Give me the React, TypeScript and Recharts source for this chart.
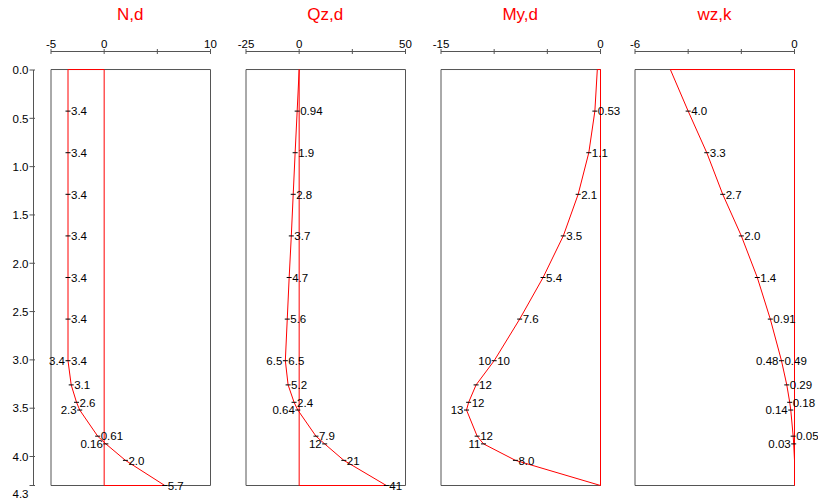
import React from 'react';
import {
  ScatterChart,
  Scatter,
  XAxis,
  YAxis,
  ReferenceArea,
} from 'recharts';

// depth of every result node (m)
const depths = [0, 0.43, 0.86, 1.29, 1.72, 2.15, 2.58, 3.01, 3.26, 3.44, 3.52, 3.79, 3.87, 4.04, 4.3];
const depthTicks = [0, 0.5, 1, 1.5, 2, 2.5, 3, 3.5, 4, 4.3];

// N,d
const nValues = [-3.4, -3.4, -3.4, -3.4, -3.4, -3.4, -3.4, -3.4, -3.1, -2.6, -2.3, -0.61, 0.16, 2.0, 5.7];
const nRight = ['', '3.4', '3.4', '3.4', '3.4', '3.4', '3.4', '3.4', '3.1', '2.6', '', '0.61', '', '2.0', '5.7'];
const nLeft = ['', '', '', '', '', '', '', '3.4', '', '', '2.3', '', '0.16', '', ''];

// Qz,d
const qValues = [0, -0.94, -1.9, -2.8, -3.7, -4.7, -5.6, -6.5, -5.2, -2.4, -0.64, 7.9, 12, 21, 41];
const qRight = ['', '0.94', '1.9', '2.8', '3.7', '4.7', '5.6', '6.5', '5.2', '2.4', '', '7.9', '', '21', '41'];
const qLeft = ['', '', '', '', '', '', '', '6.5', '', '', '0.64', '', '12', '', ''];

// My,d
const mValues = [-0.3, -0.53, -1.1, -2.1, -3.5, -5.4, -7.6, -10, -11.7, -12.4, -12.6, -11.6, -11, -8.0, 0];
const mRight = ['', '0.53', '1.1', '2.1', '3.5', '5.4', '7.6', '10', '12', '12', '', '12', '', '8.0', ''];
const mLeft = ['', '', '', '', '', '', '', '10', '', '', '13', '', '11', '', ''];

// wz,k
const wValues = [-4.67, -4.0, -3.3, -2.7, -2.0, -1.4, -0.91, -0.49, -0.29, -0.18, -0.14, -0.05, -0.03, 0, 0];
const wRight = ['', '4.0', '3.3', '2.7', '2.0', '1.4', '0.91', '0.49', '0.29', '0.18', '', '0.05', '', '', ''];
const wLeft = ['', '', '', '', '', '', '', '0.48', '', '', '0.14', '', '0.03', '', ''];

const FONT = '"Liberation Sans", Arial, sans-serif';
const RED = '#ff0000';
const GREY = '#555';
const H = 499;
const AXIS_Y = 51.5;
const BOX_W = 159.5;
const ML = 22;
const MR = 26;
const Y_DOMAIN: [number, number] = [-0.1863, 4.3];

const panels = [
  { title: 'N,d', x0: 50.5, domain: [-5, 10], ticks: [-5, 0, 5, 10], shown: [-5, 0, 10], values: nValues, right: nRight, left: nLeft },
  { title: 'Qz,d', x0: 245.5, domain: [-25, 50], ticks: [-25, 0, 25, 50], shown: [-25, 0, 50], values: qValues, right: qRight, left: qLeft },
  { title: 'My,d', x0: 440.5, domain: [-15, 0], ticks: [-15, -10, -5, 0], shown: [-15, 0], values: mValues, right: mRight, left: mLeft },
  { title: 'wz,k', x0: 634.75, domain: [-6, 0], ticks: [-6, -4, -2, 0], shown: [-6, 0], values: wValues, right: wRight, left: wLeft },
];

const buildRows = (values: number[], right: string[], left: string[]) => {
  const rows = depths.map((d, i) => ({ d, v: values[i], r: right[i], l: left[i] }));
  // close the diagram back along the member axis
  rows.push({ d: 4.3, v: 0, r: '', l: '' });
  rows.push({ d: 0, v: 0, r: '', l: '' });
  rows.push({ d: 0, v: values[0], r: '', l: '' });
  return rows;
};

const PointLabel = (props: any) => {
  const { cx, cy, payload } = props;
  if (!payload || (!payload.r && !payload.l)) return <g />;
  return (
    <g>
      <line x1={cx - 2.5} x2={cx + 2.5} y1={cy} y2={cy} stroke="#000" strokeWidth={1} />
      {payload.r && (
        <text x={cx + 3} y={cy + 4.3} fontSize={11.5} fontFamily={FONT} fill="#000" textAnchor="start">
          {payload.r}
        </text>
      )}
      {payload.l && (
        <text x={cx - 3} y={cy + 4.3} fontSize={11.5} fontFamily={FONT} fill="#000" textAnchor="end">
          {payload.l}
        </text>
      )}
    </g>
  );
};

const makeTopTick = (shown: number[]) => (props: any) => {
  const { x, payload } = props;
  return (
    <g>
      <line x1={x} x2={x} y1={AXIS_Y - 2.5} y2={AXIS_Y + 2.5} stroke={GREY} strokeWidth={1} />
      {shown.includes(payload.value) && (
        <text x={x} y={AXIS_Y - 4} fontSize={11.5} fontFamily={FONT} fill="#000" textAnchor="middle">
          {payload.value}
        </text>
      )}
    </g>
  );
};

const DepthTick = (props: any) => {
  const { y, payload } = props;
  const v = payload.value as number;
  return (
    <g>
      <line x1={29.5} x2={35} y1={y} y2={y} stroke={GREY} strokeWidth={1} />
      <text x={28.5} y={y + 4.3 + (v === 4.3 ? 8 : 0)} fontSize={11.5} fontFamily={FONT} fill="#000" textAnchor="end">
        {v.toFixed(1)}
      </text>
    </g>
  );
};

const Panel = ({ p }: { p: typeof panels[number] }) => {
  const rows = buildRows(p.values, p.right, p.left);
  return (
    <div style={{ position: 'absolute', left: p.x0 - ML, top: 0 }}>
      <div
        style={{
          position: 'absolute',
          left: ML,
          top: 5,
          width: BOX_W,
          textAlign: 'center',
          color: RED,
          fontFamily: FONT,
          fontSize: 17,
          lineHeight: '20px',
        }}
      >
        {p.title}
      </div>
      <ScatterChart
        width={BOX_W + ML + MR}
        height={H}
        margin={{ top: AXIS_Y - 20, right: MR, bottom: 13.5, left: ML }}
      >
        <XAxis
          dataKey="v"
          type="number"
          orientation="top"
          height={20}
          domain={p.domain}
          ticks={p.ticks}
          tick={makeTopTick(p.shown)}
          tickLine={false}
          axisLine={{ stroke: GREY, strokeWidth: 1 }}
          interval={0}
        />
        <YAxis dataKey="d" type="number" domain={Y_DOMAIN} reversed hide />
        <ReferenceArea
          x1={p.domain[0]}
          x2={p.domain[1]}
          y1={0}
          y2={4.3}
          fill="none"
          fillOpacity={0}
          stroke={GREY}
          strokeWidth={1}
        />
        <Scatter
          data={rows}
          line={{ stroke: RED, strokeWidth: 1 }}
          lineType="joint"
          shape={PointLabel}
          isAnimationActive={false}
        />
      </ScatterChart>
    </div>
  );
};

// the depth scale is drawn in its own narrow chart on the left
const depthRows = depthTicks.map((d) => ({ x: 0, d, r: '', l: '' }));

export default function App() {
  return (
    <div style={{ position: 'absolute', left: 0, top: 0, width: 818, height: H, background: '#fff' }}>
      <div style={{ position: 'absolute', left: 0, top: 0 }}>
        <ScatterChart width={45} height={H} margin={{ top: 70, right: 0, bottom: 13.5, left: 0 }}>
          <XAxis type="number" dataKey="x" domain={[0, 1]} hide />
          <YAxis
            type="number"
            dataKey="d"
            width={33.5}
            domain={[0, 4.3]}
            reversed
            ticks={depthTicks}
            interval={0}
            tick={DepthTick}
            tickLine={false}
            axisLine={{ stroke: GREY, strokeWidth: 1 }}
          />
          <Scatter data={depthRows} shape={PointLabel} isAnimationActive={false} />
        </ScatterChart>
      </div>
      {panels.map((p) => (
        <Panel key={p.title} p={p} />
      ))}
    </div>
  );
}
